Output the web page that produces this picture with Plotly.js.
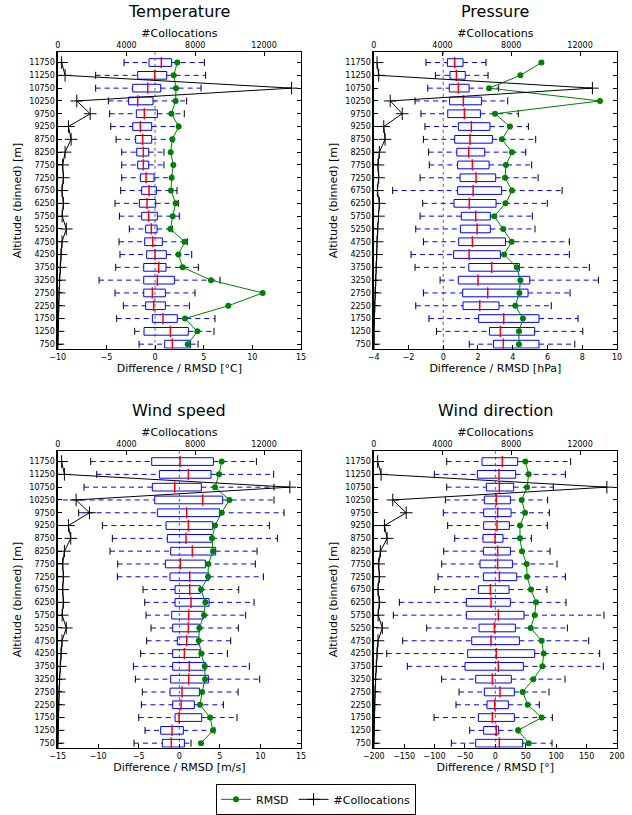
<!DOCTYPE html>
<html><head><meta charset="utf-8">
<script src="https://cdn.plot.ly/plotly-3.0.1.min.js"></script>
<style>html,body{margin:0;padding:0;background:#fff}#chart{width:632px;height:815px}</style>
</head><body><div id="chart"></div>
<script>
// Altitude bins (top to bottom)
const altitudes = [11750, 11250, 10750, 10250, 9750, 9250, 8750, 8250, 7750, 7250, 6750, 6250, 5750, 5250, 4750, 4250, 3750, 3250, 2750, 2250, 1750, 1250, 750];

const panelTitles = ["Temperature", "Pressure", "Wind speed", "Wind direction"];
const xTitles = ["Difference / RMSD [°C]", "Difference / RMSD [hPa]", "Difference / RMSD [m/s]", "Difference / RMSD [°]"];
const xTicks = [[-10, -5, 0, 5, 10, 15], [-4, -2, 0, 2, 4, 6, 8, 10], [-15, -10, -5, 0, 5, 10, 15], [-200, -150, -100, -50, 0, 50, 100, 150, 200]];
const xRanges = [[-10, 15], [-4, 10], [-15, 15], [-200, 200]];
const countTicks = [0, 4000, 8000, 12000];
const countRange = [0, 14150];

// Temperature
const tempLow = [-3.18, -6.1, -6.1, -4.79, -4.66, -4.55, -4.0, -3.42, -3.42, -3.42, -3.53, -4.11, -3.66, -2.64, -3.7, -3.6, -4.04, -5.75, -4.11, -3.25, -3.94, -2.09, -1.64];
const tempQ1 = [-0.62, -1.78, -2.3, -2.71, -1.92, -2.29, -1.99, -1.88, -1.78, -1.51, -1.37, -1.61, -1.37, -0.96, -1.06, -0.86, -1.16, -1.16, -1.16, -0.96, -0.27, -1.13, 0.99];
const tempMed = [0.65, -0.03, -0.75, -1.78, -1.1, -1.51, -1.27, -1.2, -1.2, -0.92, -0.62, -0.82, -0.65, -0.38, -0.24, 0.0, 0.38, 0.24, -0.27, -0.14, 0.82, 1.58, 1.78];
const tempQ3 = [1.71, 1.2, 0.58, -0.21, 0.24, -0.34, -0.34, -0.65, -0.65, -0.1, 0.14, 0.07, 0.24, 0.21, 0.75, 1.16, 1.13, 1.99, 1.06, 1.06, 2.29, 3.42, 3.66];
const tempHigh = [5.07, 5.2, 4.73, 3.25, 3.01, 2.35, 1.88, 0.92, 0.92, 1.71, 2.26, 2.4, 2.5, 1.78, 3.32, 3.77, 4.45, 6.68, 4.11, 3.53, 6.16, 6.06, 4.42];
const tempRmsd = [2.29, 1.92, 2.16, 2.12, 1.68, 2.43, 1.78, 1.61, 1.88, 1.71, 1.64, 2.12, 1.82, 1.58, 3.05, 2.4, 2.84, 5.75, 11.06, 7.53, 3.08, 4.35, 3.36];
const tempCount = [230, 430, 13600, 1110, 1890, 625, 780, 430, 290, 330, 250, 330, 260, 500, 250, 190, 150, 110, 80, 60, 40, 25, 15];

// Pressure
const presLow = [-0.99, -0.45, -0.89, -1.62, -1.28, -1.05, -1.14, -0.84, -0.8, -1.33, -2.91, -1.18, -1.33, -1.58, -1.14, -1.85, -1.62, -0.18, -1.14, -1.58, -0.82, -0.39, 1.5];
const presQ1 = [0.24, 0.39, 0.35, 0.37, 0.26, 0.87, 0.66, 0.78, 0.83, 0.97, 0.83, 0.62, 1.04, 0.99, 0.89, 0.6, 1.47, 0.87, 1.12, 1.14, 2.04, 2.66, 2.89];
const presMed = [0.66, 0.76, 0.87, 1.16, 1.22, 1.62, 1.54, 1.47, 1.68, 1.89, 1.72, 1.5, 1.87, 1.95, 1.68, 1.49, 2.79, 2.0, 2.56, 2.1, 3.48, 3.29, 3.46];
const presQ3 = [1.14, 1.27, 1.49, 2.21, 2.14, 2.69, 2.83, 2.39, 2.64, 3.02, 3.36, 3.04, 2.71, 2.71, 3.58, 3.29, 4.38, 4.98, 4.88, 3.21, 5.51, 5.26, 5.51];
const presHigh = [2.46, 2.58, 3.19, 3.71, 4.32, 4.9, 5.32, 4.75, 5.09, 5.46, 6.84, 5.99, 5.13, 5.28, 7.26, 7.26, 8.41, 8.93, 7.3, 6.22, 7.76, 8.03, 7.57];
const presRmsd = [5.65, 4.44, 2.64, 9.02, 2.98, 3.84, 3.38, 3.96, 3.61, 3.56, 3.96, 3.58, 2.94, 3.46, 3.94, 3.5, 4.23, 4.44, 4.38, 4.15, 4.59, 4.36, 4.36];
const presCount = [195, 290, 12720, 960, 1660, 585, 660, 330, 250, 290, 215, 330, 280, 230, 195, 175, 140, 115, 80, 60, 40, 20, 20];

// Wind speed
const wsLow = [-10.93, -10.19, -11.75, -15.5, -12.41, -9.49, -8.26, -8.55, -7.6, -7.64, -4.48, -4.27, -4.11, -3.49, -4.03, -4.77, -5.67, -5.42, -4.56, -4.68, -5.01, -4.23, -5.59];
const wsQ1 = [-3.41, -2.46, -3.33, -3.04, -2.71, -1.64, -1.48, -1.07, -1.72, -1.15, -0.53, -0.53, -0.94, -0.82, -0.25, -0.82, -0.82, -1.07, -1.15, -0.82, -0.53, -2.3, -2.1];
const wsMed = [0.08, 1.11, -0.57, 2.88, 0.9, 1.11, 0.82, 1.6, 0.12, 1.28, 1.28, 1.44, 1.15, 1.11, 0.9, 0.62, 1.23, 1.15, 0.33, 0.21, -0.04, -0.9, -0.99];
const wsQ3 = [4.19, 3.91, 2.71, 5.34, 4.97, 4.11, 4.03, 4.48, 3.21, 3.62, 2.59, 3.66, 2.96, 2.47, 2.39, 2.51, 3.25, 3.58, 2.47, 1.85, 2.76, 0.49, 0.62];
const wsHigh = [9.5, 11.63, 11.67, 11.67, 12.91, 11.1, 12.09, 9.58, 9.37, 10.36, 7.32, 9.21, 8.18, 7.28, 6.33, 5.92, 8.63, 9.91, 7.24, 5.43, 7.11, 4.36, 1.44];
const wsRmsd = [5.22, 4.89, 4.4, 6.17, 5.22, 4.4, 4.03, 4.15, 3.58, 3.54, 2.67, 3.21, 3.04, 2.47, 2.39, 2.71, 3.13, 3.17, 2.8, 2.55, 3.78, 4.15, 2.67];
const wsCount = [230, 390, 13500, 1070, 1850, 625, 760, 390, 290, 330, 290, 330, 260, 500, 250, 190, 150, 110, 80, 60, 40, 25, 15];

// Wind direction
const wdLow = [-80, -100.3, -80, -82.2, -85.5, -78.4, -66.8, -84.9, -88.2, -94.2, -99.7, -157.8, -167.7, -112.9, -152.3, -178.6, -144.7, -88.2, -59.7, -64.7, -100.8, -42.2, -72.3];
const wdQ1 = [-21.9, -29.6, -14.8, -18.1, -19.2, -19.2, -20.3, -19.7, -25.2, -19.7, -27.9, -47.7, -47.7, -26.8, -38.9, -45.5, -49.9, -32.3, -18.1, -13.7, -27.9, -19.2, -32.3];
const wdMed = [11.5, 6.0, 6.6, 1.6, 3.8, 2.7, -0.5, 3.8, 3.8, 6.6, -8.2, -7.1, 4.9, -1.6, -7.1, 1.6, 4.9, -4.9, 7.7, -1.1, -4.9, 1.6, 6.6];
const wdQ3 = [36.7, 33.4, 30.1, 24.7, 25.8, 23, 12.6, 24.7, 28, 35.1, 22.5, 24.7, 47.1, 32.9, 39.5, 64.7, 46, 26.3, 31.2, 21.4, 31.2, 5.5, 44.9];
const wdHigh = [123.8, 115.1, 95.3, 86, 88.8, 85.5, 59.2, 89.9, 101.4, 115.1, 84.9, 116.2, 178.6, 118.4, 153.4, 171.5, 177.5, 114.5, 88.2, 72.3, 93.7, 38.4, 93.2];
const wdRmsd = [49.3, 54.8, 52.1, 43.3, 48.8, 40.5, 40.5, 43.8, 51.5, 52.1, 58.6, 66.8, 64.7, 58.1, 76.2, 79.5, 77.3, 62.5, 44.9, 53.2, 76.2, 37.3, 54.8];
const wdCount = [230, 430, 13560, 1110, 1890, 625, 780, 390, 290, 330, 250, 330, 260, 500, 250, 190, 150, 110, 80, 60, 40, 25, 15];

const panels = [
  {low: tempLow, q1: tempQ1, med: tempMed, q3: tempQ3, high: tempHigh, rmsd: tempRmsd, count: tempCount},
  {low: presLow, q1: presQ1, med: presMed, q3: presQ3, high: presHigh, rmsd: presRmsd, count: presCount},
  {low: wsLow, q1: wsQ1, med: wsMed, q3: wsQ3, high: wsHigh, rmsd: wsRmsd, count: wsCount},
  {low: wdLow, q1: wdQ1, med: wdMed, q3: wdQ3, high: wdHigh, rmsd: wdRmsd, count: wdCount}
];

const W = 632, H = 815;
const xDomains = [[57.7 / W, 301 / W], [373.7 / W, 617 / W]];
const yDomains = [[1 - 349.7 / H, 1 - 52.3 / H], [1 - 749.7 / H, 1 - 452.3 / H]];
const yRange = [567, 12155];
const FONT = "DejaVu Sans, Bitstream Vera Sans, sans-serif";
const BLUE = "#0000ff", GREEN = "#008000";

const traces = [];
const layout = {
  width: W, height: H,
  margin: {l: 0, r: 0, t: 0, b: 0},
  paper_bgcolor: "#fff", plot_bgcolor: "rgba(0,0,0,0)",
  font: {family: FONT, color: "#000"},
  barmode: "overlay",
  showlegend: true,
  legend: {orientation: "h", x: 0.5, xanchor: "center", y: 1 - 801.3 / H, yanchor: "middle",
           bordercolor: "#000", borderwidth: 1, font: {size: 11}, bgcolor: "#fff", itemwidth: 30},
  shapes: [], annotations: []
};

panels.forEach((p, i) => {
  const bx = "x" + (2 * i + 1 === 1 ? "" : (2 * i + 1));
  const tx = "x" + (2 * i + 2);
  const yy = "y" + (i === 0 ? "" : (i + 1));
  const col = i % 2, row = Math.floor(i / 2);
  const axStyle = {ticks: "inside", ticklen: 4, tickwidth: 1, tickcolor: "#000", showline: true,
                   linecolor: "#000", linewidth: 1.3, showgrid: false, zeroline: false,
                   tickfont: {size: 8}, automargin: false};

  layout["xaxis" + (2 * i + 1)] = Object.assign({}, axStyle, {
    domain: xDomains[col], range: xRanges[i], tickvals: xTicks[i], anchor: yy,
    title: {text: xTitles[i], font: {size: 11}, standoff: 2}
  });
  layout["xaxis" + (2 * i + 2)] = Object.assign({}, axStyle, {
    overlaying: bx, side: "top", anchor: yy, range: countRange, tickvals: countTicks, tickformat: "d",
    title: {text: "#Collocations", font: {size: 11}, standoff: 0}
  });
  layout["yaxis" + (i === 0 ? "" : (i + 1))] = Object.assign({}, axStyle, {
    domain: yDomains[row], range: yRange, tickvals: altitudes, tickformat: "d", anchor: bx,
    mirror: "ticks",
    title: {text: "Altitude (binned) [m]", font: {size: 11}, standoff: 5}
  });

  // boxes (q1..q3)
  traces.push({type: "bar", orientation: "h", xaxis: bx, yaxis: yy, y: altitudes,
    x: p.q3.map((v, k) => v - p.q1[k]), base: p.q1, width: 300,
    marker: {color: "rgba(0,0,0,0)", line: {color: BLUE, width: 1}},
    showlegend: false, hoverinfo: "skip"});

  // whiskers
  const wx = [], wy = [];
  altitudes.forEach((a, k) => {
    wx.push(p.low[k], p.q1[k], null, p.q3[k], p.high[k], null);
    wy.push(a, a, null, a, a, null);
  });
  traces.push({type: "scatter", mode: "lines", xaxis: bx, yaxis: yy, x: wx, y: wy,
    line: {color: BLUE, width: 1, dash: "5px,4px"}, connectgaps: false, showlegend: false, hoverinfo: "skip"});

  // caps
  traces.push({type: "scatter", mode: "markers", xaxis: bx, yaxis: yy,
    x: p.low.concat(p.high), y: altitudes.concat(altitudes),
    marker: {symbol: "line-ns", size: 5, line: {color: "#000", width: 1}}, showlegend: false, hoverinfo: "skip"});

  // medians
  traces.push({type: "scatter", mode: "markers", xaxis: bx, yaxis: yy, x: p.med, y: altitudes,
    marker: {symbol: "line-ns", size: 8, line: {color: "#ff0000", width: 1.5}}, showlegend: false, hoverinfo: "skip"});

  // RMSD
  traces.push({type: "scatter", mode: "lines+markers", name: "RMSD", xaxis: bx, yaxis: yy, x: p.rmsd, y: altitudes,
    line: {color: GREEN, width: 1}, marker: {color: GREEN, size: 6, symbol: "circle"},
    showlegend: i === 0, legendgroup: "rmsd"});

  // collocations
  traces.push({type: "scatter", mode: "lines+markers", name: "#Collocations", xaxis: tx, yaxis: yy, x: p.count, y: altitudes,
    line: {color: "#000", width: 1}, marker: {symbol: "cross-thin", size: 9, line: {color: "#000", width: 1}},
    showlegend: i === 0, legendgroup: "coll"});

  // zero reference line
  layout.shapes.push({type: "line", xref: bx, yref: yy + " domain", x0: 0, x1: 0, y0: 0, y1: 1,
    line: {color: "#666", width: 1, dash: "dot"}, layer: "below"});

  // panel title
  const xc = (xDomains[col][0] + xDomains[col][1]) / 2;
  const yc = row === 0 ? 1 - 12 / H : 1 - 411.7 / H;
  layout.annotations.push({text: panelTitles[i], xref: "paper", yref: "paper", x: xc, y: yc,
    xanchor: "center", yanchor: "middle", showarrow: false, font: {size: 16}});
});

Plotly.newPlot("chart", traces, layout, {displayModeBar: false, staticPlot: true});
</script>
</body></html>
